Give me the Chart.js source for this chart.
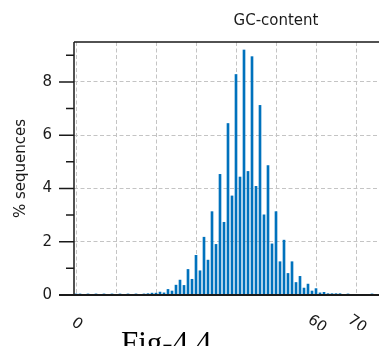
<!DOCTYPE html>
<html lang="en">
<head>
    <meta charset="UTF-8">
    <title>GC-content</title>
    <style>
        html, body {
            margin: 0;
            padding: 0;
            overflow: hidden;
            background: #fff;
        }
        .wrapper {
            position: relative;
            width: 490px;
            height: 346px;
        }
        #caption {
            position: absolute;
            left: 121px;
            top: 327px;
            font-family: "Liberation Serif", "Times New Roman", serif;
            font-size: 31px;
            line-height: 31px;
            color: #000;
            white-space: nowrap;
        }
    </style>
</head>
<body>
    <div class="wrapper">
        <canvas id="chart" width="490" height="330"></canvas>
        <div id="caption">Fig-4.4</div>
    </div>

    <script src="https://cdn.jsdelivr.net/npm/chart.js"></script>
    <script>
        // GC content (%) of each bar and the share of sequences (%)
        const gcPercent = [0, 1, 3, 5, 7, 9, 11, 13, 15, 17, 18, 19, 20,
            21, 22, 23, 24, 25, 26, 27, 28, 29, 30,
            31, 32, 33, 34, 35, 36, 37, 38, 39, 40,
            41, 42, 43, 44, 45, 46, 47, 48, 49, 50,
            51, 52, 53, 54, 55, 56, 57, 58, 59, 60,
            61, 62, 63, 64, 65, 66, 68, 74];
        const seqPercent = [0.04, 0.04, 0.04, 0.04, 0.04, 0.04, 0.04, 0.04, 0.04, 0.04, 0.05, 0.07, 0.07,
            0.11, 0.08, 0.21, 0.15, 0.37, 0.56, 0.36, 0.96, 0.59, 1.49,
            0.91, 2.17, 1.31, 3.13, 1.90, 4.53, 2.73, 6.44, 3.72, 8.28,
            4.43, 9.20, 4.64, 8.95, 4.08, 7.12, 3.01, 4.86, 1.92, 3.13,
            1.25, 2.06, 0.81, 1.25, 0.47, 0.70, 0.26, 0.41, 0.15, 0.24,
            0.08, 0.10, 0.05, 0.05, 0.05, 0.05, 0.04, 0.04];

        // axis ticks
        const xTicks = [0, 10, 20, 30, 40, 50, 60, 70, 80, 90, 100];
        const xTickLabels = ['0', '', '', '', '', '', '60', '70', '80', '90', '100'];
        const yTicks = [0, 0.5, 1, 1.5, 2, 2.5, 3, 3.5, 4, 4.5, 5, 5.5, 6, 6.5, 7, 7.5, 8, 8.5, 9, 9.5];
        const yTickLabels = ['0', '2', '4', '6', '8'];

        const barBlue = '#0072bd';
        const gridGray = '#c4c4c4';
        const ink = '#1a1a1a';

        // axis lines, tick marks and slanted x labels
        const axisFrame = {
            id: 'axisFrame',
            afterDraw(chart) {
                const {ctx, chartArea: a, scales: {x, y}} = chart;
                ctx.save();
                ctx.strokeStyle = ink;
                ctx.lineWidth = 1.5;
                ctx.beginPath();
                y.ticks.forEach(t => {
                    const py = y.getPixelForValue(t.value);
                    const len = t.value % 2 === 0 ? 15 : 8;
                    ctx.moveTo(a.left - len, py);
                    ctx.lineTo(a.left, py);
                });
                ctx.moveTo(a.left, a.top);
                ctx.lineTo(a.left, a.bottom);
                ctx.moveTo(a.left, a.top);
                ctx.lineTo(a.right, a.top);
                ctx.stroke();

                ctx.lineWidth = 2;
                ctx.beginPath();
                ctx.moveTo(a.left - 15, a.bottom);
                ctx.lineTo(a.right, a.bottom);
                ctx.stroke();

                ctx.fillStyle = ink;
                ctx.font = '15px "DejaVu Sans"';
                ctx.textAlign = 'center';
                ctx.textBaseline = 'middle';
                x.ticks.forEach((t, i) => {
                    const label = xTickLabels[i];
                    if (!label) return;
                    ctx.save();
                    ctx.translate(x.getPixelForValue(t.value) + 1, a.bottom + 29);
                    ctx.rotate(35 * Math.PI / 180);
                    ctx.fillText(label, 0, 0);
                    ctx.restore();
                });
                ctx.restore();
            }
        };

        const chart = new Chart(document.getElementById('chart'), {
            type: 'bar',
            data: {
                datasets: [{
                    label: '% sequences',
                    data: gcPercent.map((g, i) => ({x: g, y: seqPercent[i]})),
                    backgroundColor: barBlue,
                    borderWidth: 0,
                    barThickness: 2
                }]
            },
            options: {
                responsive: false,
                animation: false,
                devicePixelRatio: 1,
                layout: {
                    padding: {left: 0, right: 12, top: 0, bottom: 35}
                },
                plugins: {
                    legend: {display: false},
                    tooltip: {enabled: false},
                    title: {
                        display: true,
                        text: 'GC-content',
                        fullSize: false,
                        color: ink,
                        font: {family: 'DejaVu Sans', size: 15, weight: 'normal'},
                        padding: {top: 12, bottom: 12}
                    }
                },
                scales: {
                    x: {
                        type: 'linear',
                        min: -0.5,
                        max: 100.5,
                        offset: false,
                        afterBuildTicks: scale => {
                            scale.ticks = xTicks.map(v => ({value: v}));
                        },
                        afterFit: scale => {
                            scale.height = 0;
                        },
                        ticks: {display: false},
                        grid: {
                            color: gridGray,
                            lineWidth: 1,
                            offset: false,
                            drawTicks: false
                        },
                        border: {display: false, dash: [4, 2.5]}
                    },
                    y: {
                        min: 0,
                        max: 9.5,
                        afterBuildTicks: scale => {
                            scale.ticks = yTicks.map(v => ({value: v}));
                        },
                        afterFit: scale => {
                            scale.width = 74;
                        },
                        ticks: {
                            padding: 22,
                            color: ink,
                            font: {family: 'DejaVu Sans', size: 15},
                            callback: v => (v % 2 === 0 ? yTickLabels[v / 2] : '')
                        },
                        grid: {
                            color: c => (c.tick && c.tick.value % 2 === 0 && c.tick.value > 0 ? gridGray : 'rgba(0,0,0,0)'),
                            lineWidth: 1,
                            drawTicks: false
                        },
                        border: {display: false, dash: [4, 2.5]},
                        title: {
                            display: true,
                            text: '% sequences',
                            color: ink,
                            font: {family: 'DejaVu Sans', size: 15},
                            padding: {top: 12, bottom: 0}
                        }
                    }
                }
            },
            plugins: [axisFrame]
        });
    </script>
</body>
</html>
